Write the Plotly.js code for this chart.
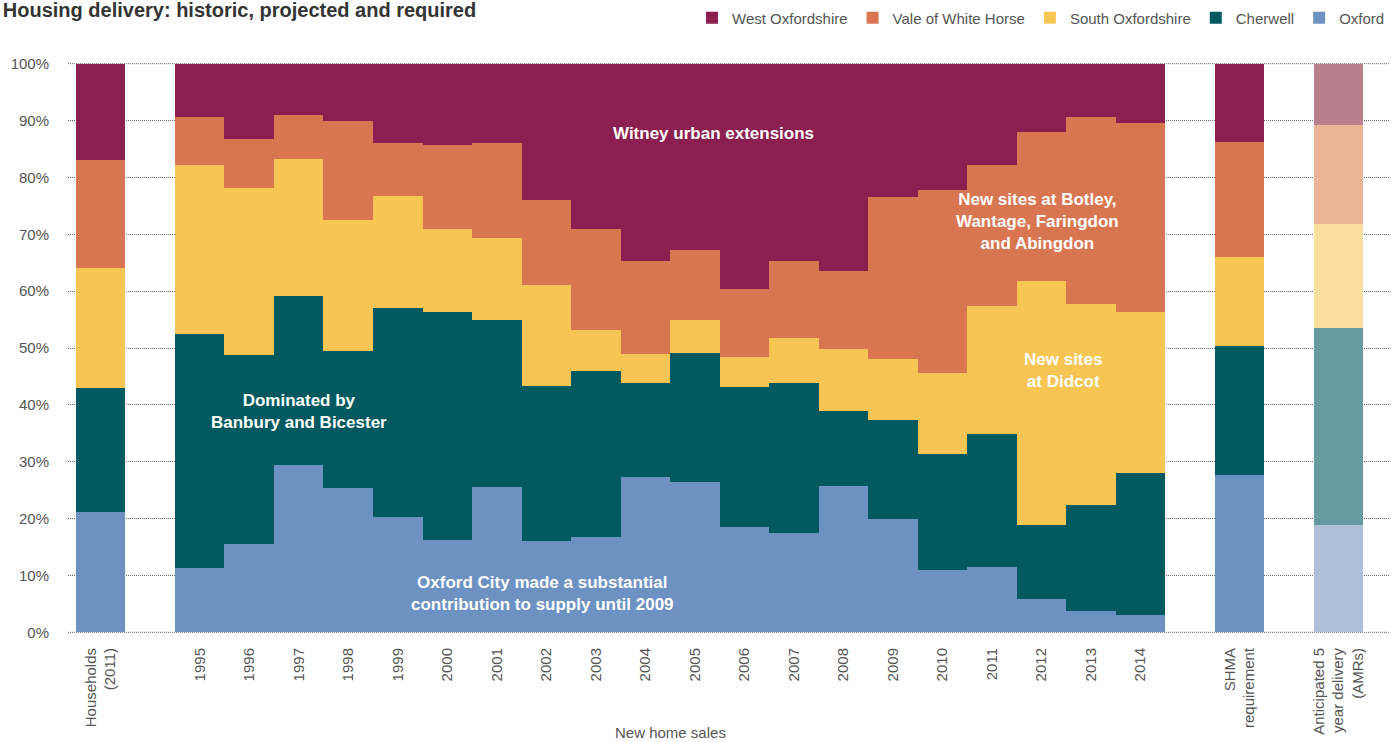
<!DOCTYPE html>
<html>
<head>
<meta charset="utf-8">
<script src="https://cdn.plot.ly/plotly-3.0.1.min.js"></script>
<style>
  html, body { margin: 0; padding: 0; background: #ffffff; }
  #chart { width: 1392px; height: 742px; }
</style>
</head>
<body>
<div id="chart"></div>
<script>
// ---- Data (shares of total, %) ----
var categories = [
  "Households<br>(2011)",
  "1995", "1996", "1997", "1998", "1999", "2000", "2001", "2002", "2003", "2004",
  "2005", "2006", "2007", "2008", "2009", "2010", "2011", "2012", "2013", "2014",
  "SHMA<br>requirement",
  "Anticipated 5<br>year delivery<br>(AMRs)"
];

var oxford = [21.2,
  11.3, 15.5, 29.5, 25.3, 20.3, 16.2, 25.5, 16.0, 16.8, 27.3,
  26.4, 18.5, 17.4, 25.7, 19.9, 11.0, 11.5, 5.9, 3.8, 3.1,
  27.6, 18.8];
var cherwell = [21.8,
  41.1, 33.3, 29.7, 24.2, 36.8, 40.1, 29.4, 27.4, 29.2, 16.5,
  22.7, 24.6, 26.4, 13.2, 17.5, 20.3, 23.4, 12.9, 18.6, 24.9,
  22.7, 34.7];
var southOxfordshire = [21.0,
  29.7, 29.4, 24.0, 23.0, 19.6, 14.7, 14.4, 17.7, 7.2, 5.1,
  5.8, 5.4, 8.0, 11.0, 10.7, 14.3, 22.5, 42.9, 35.4, 28.3,
  15.7, 18.3];
var valeOfWhiteHorse = [19.0,
  8.6, 8.6, 7.8, 17.5, 9.4, 14.7, 16.8, 15.0, 17.8, 16.4,
  12.3, 11.8, 13.5, 13.7, 28.4, 32.2, 24.7, 26.2, 32.9, 33.3,
  20.3, 17.4];
var westOxfordshire = [17.0,
  9.3, 13.2, 9.0, 10.0, 13.9, 14.3, 13.9, 23.9, 29.0, 34.7,
  32.8, 39.7, 34.7, 36.4, 23.5, 22.2, 17.9, 12.1, 9.3, 10.4,
  13.7, 10.8];

var seriesNames = ["Oxford", "Cherwell", "South Oxfordshire", "Vale of White Horse", "West Oxfordshire"];
var yTickVals = [0, 10, 20, 30, 40, 50, 60, 70, 80, 90, 100];
var yTickText = yTickVals.map(function (v) { return v + "%"; });

// ---- Styling ----
var baseColors  = ["#6d91c1", "#02595f", "#f6c554", "#d97652", "#8b1f50"];
var lightColors = ["#aebfda", "#669c9f", "#fbdfa0", "#ebb496", "#b97f8d"];
var projected = "Anticipated 5<br>year delivery<br>(AMRs)";

// axis order with empty spacer slots
var axisOrder = [categories[0], " "]
  .concat(categories.slice(1, 21))
  .concat(["  ", categories[21], "   ", categories[22]]);

var FONT = "Liberation Sans, Arial, Helvetica, sans-serif";
var allSeries = [oxford, cherwell, southOxfordshire, valeOfWhiteHorse, westOxfordshire];

var traces = allSeries.map(function (vals, i) {
  return {
    type: "bar",
    name: seriesNames[i],
    x: categories,
    y: vals,
    width: 1,
    marker: {
      color: categories.map(function (c) { return c === projected ? lightColors[i] : baseColors[i]; }),
      line: { width: 0 }
    },
    hoverinfo: "x+y+name"
  };
});

var white = { family: FONT, size: 17, color: "#ffffff" };
function ann(text, x, y) {
  return { text: "<b>" + text + "</b>", x: x, y: y, xref: "x", yref: "y",
           showarrow: false, font: white, align: "center" };
}

var GRID = { color: "#666666", width: 1, dash: "1px,1px" };
// edge gridlines (0% and 100%) which Plotly leaves out at the range limits
var edgeLines = [yTickVals[0], yTickVals[yTickVals.length - 1]].map(function (v) {
  return { type: "line", xref: "paper", x0: 0, x1: 1, yref: "y", y0: v, y1: v,
           line: GRID, layer: "below" };
});

var layout = {
  width: 1392, height: 742,
  margin: { l: 68, r: 2, t: 63, b: 109 },
  paper_bgcolor: "#ffffff", plot_bgcolor: "#ffffff",
  font: { family: FONT, size: 15, color: "#555555" },
  barmode: "stack",
  bargap: 0,
  title: {
    text: "<b>Housing delivery: historic, projected and required</b>",
    font: { family: FONT, size: 20, color: "#333333" },
    x: 0.002, xref: "container", xanchor: "left",
    y: 0.996, yref: "container", yanchor: "top"
  },
  showlegend: true,
  legend: {
    orientation: "h", traceorder: "reversed",
    x: 1, xanchor: "right", xref: "paper",
    y: 1.079, yanchor: "middle",
    font: { family: FONT, size: 15, color: "#555555" },
    itemwidth: 30, itemclick: false
  },
  xaxis: {
    type: "category",
    categoryorder: "array",
    categoryarray: axisOrder,
    range: [-0.66, 26.04],
    tickangle: -90,
    ticks: "",
    showgrid: false,
    zeroline: false,
    showline: false,
    ticklabelstandoff: 11,
    tickfont: { family: FONT, size: 15, color: "#555555" },
    fixedrange: true
  },
  yaxis: {
    range: [-0.12, 100.12],
    tickvals: yTickVals,
    ticktext: yTickText,
    ticks: "",
    showgrid: true,
    gridcolor: GRID.color,
    gridwidth: GRID.width,
    griddash: GRID.dash,
    zeroline: false,
    showline: false,
    ticklabelstandoff: 18,
    tickfont: { family: FONT, size: 15, color: "#555555" },
    fixedrange: true
  },
  shapes: edgeLines,
  annotations: [
    ann("Witney urban extensions", 12.38, 87.7),
    ann("Dominated by<br>Banbury and Bicester", 4.0, 38.8),
    ann("Oxford City made a substantial<br>contribution to supply until 2009", 8.93, 6.8),
    ann("New sites at Botley,<br>Wantage, Faringdon<br>and Abingdon", 18.93, 72.3),
    ann("New sites<br>at Didcot", 19.43, 46.0),
    { text: "New home sales", x: 11.5, xref: "x", y: -0.175, yref: "paper",
      yanchor: "middle", showarrow: false,
      font: { family: FONT, size: 15, color: "#555555" } }
  ]
};

Plotly.newPlot("chart", traces, layout, { displayModeBar: false, staticPlot: true });
</script>
</body>
</html>
